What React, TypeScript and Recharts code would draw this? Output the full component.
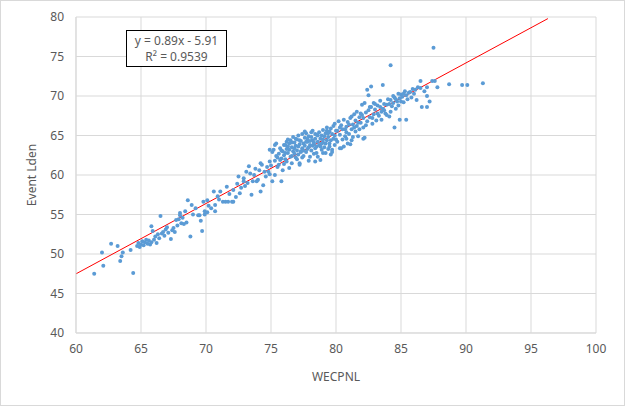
import {
  ScatterChart,
  Scatter,
  XAxis,
  YAxis,
  CartesianGrid,
  ReferenceLine,
} from "recharts";

// [WECPNL, Event Lden], grouped by WECPNL range
const lowRange: [number, number][] = [
  [61.4, 47.5], [62.0, 50.2], [62.1, 48.5], [62.7, 51.3], [63.2, 51.0], [63.4, 49.1], [63.5, 49.7], [63.6, 50.2],
  [64.2, 50.5], [64.4, 47.6], [64.7, 51.0], [64.8, 51.4], [64.9, 50.9], [65.0, 51.2], [65.1, 51.6], [65.2, 51.1],
  [65.3, 51.5], [65.4, 51.8], [65.5, 51.3], [65.6, 51.7], [65.7, 51.2], [65.8, 51.5], [65.8, 53.5], [65.9, 52.9],
  [66.0, 51.8], [66.1, 52.2], [66.2, 51.4], [66.3, 52.5], [66.4, 52.0], [66.5, 54.8], [66.6, 52.6], [66.7, 52.8],
  [66.8, 52.3], [66.9, 53.1], [67.0, 53.4], [67.1, 52.7], [67.3, 51.9], [67.4, 53.0], [67.5, 53.3], [67.6, 52.8],
  [67.7, 54.3], [67.8, 53.6], [67.9, 54.4], [68.0, 55.2], [68.0, 54.9], [68.1, 53.9], [68.2, 54.6], [68.3, 53.8],
  [68.4, 55.4], [68.5, 54.0], [68.6, 56.8], [68.8, 52.2], [68.9, 56.2], [69.0, 55.0], [69.2, 55.8], [69.4, 54.9],
  [69.5, 54.9], [69.6, 54.2], [69.7, 52.9], [69.8, 56.6], [69.9, 55.0], [69.9, 55.4],
];

const midRange: [number, number][] = [
  [70.1, 55.3], [70.1, 56.8], [70.2, 56.1], [70.4, 55.8], [70.6, 57.9], [70.7, 55.4], [70.7, 56.2], [70.9, 57.3],
  [71.0, 56.9], [71.1, 57.9], [71.3, 56.6], [71.5, 56.6], [71.6, 58.5], [71.7, 56.6], [71.8, 57.6], [72.0, 56.6],
  [72.1, 58.1], [72.1, 56.6], [72.3, 57.2], [72.4, 58.9], [72.5, 59.8], [72.6, 57.7], [72.7, 58.4], [72.9, 59.6],
  [72.9, 59.2], [73.0, 58.6], [73.1, 60.4], [73.2, 59.0], [73.3, 61.1], [73.4, 60.2], [73.5, 57.5], [73.6, 59.2],
  [73.7, 60.0], [73.8, 60.8], [73.9, 59.2], [74.0, 59.4], [74.1, 60.6], [74.2, 57.9], [74.2, 61.5], [74.3, 61.3],
  [74.4, 58.7], [74.5, 60.4], [74.6, 59.8], [74.7, 61.0], [74.8, 60.4], [74.9, 61.7], [74.9, 60.1], [74.9, 63.2],
];

const coreRange: [number, number][] = [
  [75.0, 61.2], [75.1, 62.9], [75.1, 59.2], [75.2, 63.2], [75.3, 60.0], [75.3, 61.8], [75.3, 63.8], [75.4, 64.0],
  [75.4, 62.4], [75.5, 61.0], [75.6, 61.3], [75.6, 62.7], [75.7, 61.9], [75.7, 63.4], [75.8, 62.1], [75.8, 59.2],
  [75.9, 60.6], [75.9, 63.0], [76.0, 62.5], [76.0, 61.4], [76.0, 63.8], [76.1, 63.8], [76.1, 62.0], [76.2, 64.2],
  [76.2, 61.7], [76.3, 63.6], [76.3, 62.8], [76.4, 60.9], [76.4, 63.2], [76.5, 64.4], [76.5, 62.3], [76.6, 63.5],
  [76.6, 61.5], [76.7, 64.8], [76.7, 63.0], [76.8, 62.7], [76.8, 64.1], [76.9, 63.7], [76.9, 62.2], [77.0, 64.5],
  [77.0, 63.1], [77.1, 62.6], [77.1, 65.0], [77.2, 61.5], [77.2, 63.9], [77.2, 61.3], [77.3, 64.3], [77.3, 62.9],
  [77.4, 63.4], [77.4, 65.2], [77.5, 64.0], [77.5, 62.4], [77.6, 63.7], [77.6, 64.7], [77.7, 65.3], [77.7, 62.9],
  [77.8, 64.2], [77.8, 63.3], [77.9, 61.8], [77.9, 64.9], [78.0, 62.3], [78.0, 63.8], [78.1, 64.8], [78.1, 63.1],
  [78.2, 64.4], [78.2, 65.6], [78.3, 62.7], [78.3, 63.9], [78.4, 64.6], [78.4, 63.4], [78.4, 61.7], [78.5, 63.6],
  [78.5, 65.1], [78.6, 62.3], [78.6, 64.2], [78.7, 63.8], [78.7, 65.4], [78.8, 61.9], [78.8, 64.6], [78.9, 63.2],
  [78.9, 65.0], [79.0, 65.7], [79.0, 64.1], [79.1, 63.5], [79.1, 64.9], [79.2, 62.8], [79.2, 65.3], [79.3, 64.4],
  [79.3, 66.0], [79.4, 64.8], [79.4, 63.3], [79.5, 65.5], [79.5, 64.0], [79.6, 62.6], [79.6, 65.9], [79.7, 63.2],
  [79.7, 62.9], [79.8, 64.6], [79.8, 66.2], [79.9, 66.5], [79.9, 65.0], [76.4, 64.0], [76.8, 63.4], [77.1, 63.6],
  [77.5, 63.1], [77.8, 64.6], [78.2, 63.7], [78.6, 65.0], [79.0, 64.5], [79.4, 65.3], [77.0, 62.0], [78.0, 64.3],
  [75.5, 62.2], [75.8, 63.1], [76.1, 62.8], [76.3, 64.5], [76.6, 62.4], [76.9, 64.6], [77.2, 64.4], [77.4, 62.2],
  [77.6, 65.5], [77.9, 63.5], [78.1, 65.4], [78.3, 64.1], [78.5, 62.8], [78.8, 63.6], [79.0, 62.8], [79.2, 64.0],
  [79.5, 63.6], [79.7, 65.2], [79.9, 63.8], [76.2, 63.3], [77.3, 63.0], [78.9, 64.0], [79.3, 65.6], [76.6, 64.1],
  [77.7, 64.2], [78.4, 65.2], [79.6, 64.4],
];

const highRange: [number, number][] = [
  [80.0, 64.5], [80.1, 65.6], [80.2, 66.8], [80.3, 65.1], [80.3, 63.4], [80.4, 66.3], [80.4, 63.4], [80.5, 65.8],
  [80.6, 63.6], [80.6, 67.0], [80.7, 64.9], [80.8, 66.1], [80.8, 65.4], [80.9, 64.0], [80.9, 66.7], [81.0, 65.2],
  [81.1, 63.9], [81.1, 67.2], [81.2, 67.4], [81.2, 65.8], [81.3, 64.8], [81.3, 66.4], [81.4, 67.7], [81.5, 65.5],
  [81.5, 66.9], [81.6, 68.0], [81.6, 66.2], [81.7, 64.9], [81.8, 67.3], [81.9, 66.6], [82.0, 68.9], [82.0, 67.6],
  [82.1, 64.6], [82.1, 66.0], [82.2, 69.1], [82.2, 64.7], [82.3, 67.9], [82.4, 70.8], [82.4, 66.8], [82.5, 70.1],
  [82.5, 68.2], [82.6, 67.3], [82.7, 71.2], [82.7, 68.6], [82.8, 66.5], [82.9, 69.1], [82.9, 67.7], [83.0, 68.3],
  [83.1, 66.9], [83.2, 68.8], [83.3, 67.5], [83.4, 68.6], [83.4, 69.4], [83.5, 67.0], [83.6, 71.4], [83.6, 68.4],
  [83.7, 69.0], [83.8, 67.8], [83.9, 68.9], [84.0, 69.6], [84.1, 67.4], [84.2, 73.9], [84.2, 69.5], [84.2, 68.0],
  [84.3, 68.7], [84.4, 69.1], [84.5, 66.0], [84.5, 69.8], [84.6, 68.4], [84.7, 69.3], [84.8, 70.3], [84.9, 67.0],
  [84.9, 69.7], [80.1, 64.2], [80.3, 66.0], [80.5, 64.5], [80.7, 65.8], [81.0, 66.4], [81.2, 64.4], [81.4, 66.0],
  [81.7, 66.6], [81.9, 67.8], [82.1, 67.2], [82.3, 66.3], [82.6, 68.6], [82.8, 67.2], [83.0, 69.0], [83.2, 67.8],
  [83.5, 68.0], [83.7, 68.2], [83.9, 67.6], [84.1, 69.0], [84.4, 70.0], [84.6, 69.6], [84.8, 68.8], [80.0, 65.6],
  [80.8, 64.6], [81.8, 65.8],
];

const topRange: [number, number][] = [
  [85.0, 70.2], [85.0, 69.3], [85.1, 69.9], [85.2, 69.2], [85.2, 70.3], [85.3, 70.6], [85.4, 70.1], [85.4, 67.0],
  [85.5, 69.6], [85.6, 70.4], [85.7, 70.5], [85.8, 69.8], [85.9, 70.9], [86.0, 70.3], [86.1, 70.8], [86.2, 69.5],
  [86.3, 71.1], [86.5, 71.0], [86.5, 71.9], [86.6, 68.6], [86.8, 70.6], [87.0, 68.6], [87.0, 70.0], [87.0, 71.1],
  [87.2, 69.3], [87.4, 71.9], [87.5, 76.1], [87.6, 71.9], [87.8, 71.1], [88.7, 71.5], [89.7, 71.4], [90.1, 71.4],
  [91.3, 71.6],
];

const xTicks = [60, 65, 70, 75, 80, 85, 90, 95, 100];
const yTicks = [40, 45, 50, 55, 60, 65, 70, 75, 80];

// linear trendline from the chart label
const slope = 0.89;
const intercept = -5.91;
const trendX = [60, 96.3];

const points = [...lowRange, ...midRange, ...coreRange, ...highRange, ...topRange].map(([x, y]) => ({ x, y }));
const trend = trendX.map((x) => ({ x, y: slope * x + intercept }));

const font = "'Noto Sans', sans-serif";
const textColor = "#595959";

const Dot = (props: any) => <circle cx={props.cx} cy={props.cy} r={2} fill="#5B9BD5" />;

export default function App() {
  return (
    <div
      style={{
        position: "absolute",
        left: 0,
        top: 0,
        width: 623,
        height: 404,
        border: "1px solid #D9D9D9",
        background: "#fff",
        fontFamily: font,
      }}
    >
      <ScatterChart width={623} height={404} margin={{ top: 16, right: 28, bottom: 22, left: 35 }}>
        <CartesianGrid stroke="#D9D9D9" />
        <XAxis
          type="number"
          dataKey="x"
          domain={[60, 100]}
          ticks={xTicks}
          stroke="#D9D9D9"
          tickLine={false}
          tickSize={5}
          tickMargin={6}
          height={50}
          tick={{ fill: textColor, fontSize: 12, fontFamily: font }}
          label={{ value: "WECPNL", position: "insideBottom", offset: 2, fill: textColor, fontSize: 12, fontFamily: font }}
        />
        <YAxis
          type="number"
          dataKey="y"
          domain={[40, 80]}
          ticks={yTicks}
          stroke="#D9D9D9"
          tickLine={false}
          tickSize={5}
          tickMargin={7}
          width={40}
          tick={{ fill: textColor, fontSize: 12, fontFamily: font }}
          label={{ value: "Event Lden", angle: -90, position: "insideLeft", offset: -4, fill: textColor, fontSize: 12, fontFamily: font, style: { textAnchor: "middle" } }}
        />
        <Scatter data={points} shape={Dot} isAnimationActive={false} />
        <ReferenceLine
          segment={[trend[0], trend[1]]}
          stroke="#FF0000"
          strokeWidth={1}
          ifOverflow="visible"
        />
      </ScatterChart>
      <div
        style={{
          position: "absolute",
          left: 125,
          top: 29,
          width: 101,
          height: 37,
          border: "1px solid #000",
          background: "#fff",
          color: textColor,
          fontSize: 12,
          lineHeight: "16px",
          textAlign: "center",
          paddingTop: 2,
          boxSizing: "border-box",
        }}
      >
        <div>y = 0.89x - 5.91</div>
        <div>R² = 0.9539</div>
      </div>
    </div>
  );
}
